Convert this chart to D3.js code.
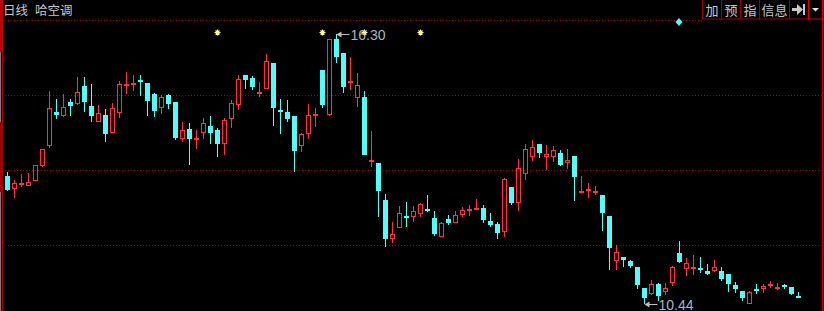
<!DOCTYPE html>
<html><head><meta charset="utf-8">
<script src="https://cdn.jsdelivr.net/npm/d3@7"></script>
<style>html,body{margin:0;padding:0;background:#000;overflow:hidden}svg{display:block}</style>
</head><body>
<svg id="c" width="824" height="311"></svg>
<script>
const title = ["日线", "哈空调"];
const buttons = ["加", "预", "指", "信息"];
const opens = [13.22,12.94,13.05,13.00,13.12,13.44,13.88,14.61,14.53,14.82,14.78,15.17,14.74,14.40,14.54,14.16,14.59,15.19,15.22,15.30,15.24,15.00,14.70,14.98,14.82,14.03,14.24,14.01,14.16,14.30,14.22,13.92,14.46,14.75,15.41,15.35,15.02,15.11,15.67,14.65,14.61,14.52,13.86,14.14,14.53,15.52,14.55,16.19,15.89,15.24,14.92,14.94,13.53,13.50,12.70,11.86,12.08,12.35,12.32,12.40,12.51,12.31,11.90,12.29,12.19,12.38,12.49,12.50,12.53,12.24,12.18,12.00,12.98,12.64,13.27,13.62,13.91,13.64,13.64,13.72,13.51,13.65,12.88,12.91,12.88,12.81,12.35,11.38,11.46,11.37,11.25,10.79,10.66,10.88,10.70,10.90,11.55,11.21,11.21,11.22,11.16,11.16,11.16,11.09,10.86,10.72,10.45,10.77,10.77,10.83,10.79,10.86,10.81,10.62];
const highs = [13.31,13.13,13.26,13.28,13.46,13.81,15.06,14.89,15.00,14.88,15.37,15.37,15.22,14.76,14.67,14.80,15.28,15.48,15.41,15.41,15.24,15.02,14.98,15.00,14.82,14.39,14.37,14.22,14.48,14.52,14.25,14.47,14.86,15.42,15.42,15.38,15.26,15.87,15.67,14.89,14.87,14.52,14.16,14.78,14.69,15.52,16.19,16.30,15.89,15.80,15.45,15.06,14.20,13.50,12.83,12.22,12.57,12.66,12.57,12.63,12.81,12.46,12.22,12.37,12.46,12.55,12.59,12.72,12.59,12.42,12.22,13.18,12.98,13.59,13.91,14.00,13.91,13.89,13.87,13.78,13.81,13.65,13.22,13.07,13.00,12.81,12.35,11.72,11.46,11.39,11.25,10.79,10.96,10.90,10.90,11.27,11.81,11.44,11.51,11.46,11.31,11.40,11.25,11.09,10.92,10.72,10.72,10.88,10.88,10.94,10.90,10.88,10.81,10.70];
const lows = [12.89,12.75,12.99,13.00,13.12,13.42,13.83,14.46,14.49,14.53,14.76,14.61,14.38,14.38,13.96,14.16,14.48,15.00,15.07,14.95,14.52,14.50,14.57,14.67,13.99,13.96,13.46,13.81,14.03,13.92,13.64,13.68,14.27,14.66,15.11,15.09,14.94,15.10,14.30,14.13,14.38,13.31,13.73,14.03,14.28,14.70,14.53,15.68,15.02,15.09,14.72,13.68,13.42,12.33,11.67,11.77,12.08,12.12,12.23,12.33,12.44,11.92,11.90,12.16,12.19,12.33,12.35,12.48,12.20,12.11,11.85,11.90,12.59,12.46,13.14,13.55,13.60,13.35,13.53,13.44,13.37,12.68,12.88,12.74,12.81,12.03,11.18,11.18,11.25,11.22,10.77,10.44,10.64,10.51,10.64,10.83,11.33,11.05,11.07,11.12,11.07,11.14,10.94,10.70,10.68,10.51,10.45,10.66,10.68,10.79,10.75,10.77,10.64,10.57];
const closes = [12.92,13.07,13.06,13.09,13.46,13.80,14.69,14.54,14.72,14.74,15.04,14.82,14.51,14.59,14.14,14.69,15.22,15.22,15.24,15.26,14.85,14.63,14.93,14.78,14.05,14.21,14.02,14.04,14.36,14.15,13.91,14.43,14.80,15.32,15.30,15.15,15.04,15.71,14.70,14.63,14.46,13.77,14.13,14.54,14.56,14.75,16.19,15.81,15.14,15.28,15.19,13.68,13.57,12.90,11.86,11.95,12.41,12.32,12.45,12.61,12.49,11.96,12.20,12.20,12.37,12.47,12.51,12.53,12.26,12.16,11.98,13.15,12.63,13.39,13.81,13.85,13.72,13.70,13.78,13.46,13.57,13.20,12.90,12.94,12.90,12.42,11.66,11.57,11.40,11.27,10.86,10.57,10.88,10.62,10.78,11.25,11.35,11.33,11.25,11.18,11.09,11.25,10.99,10.88,10.77,10.57,10.70,10.75,10.83,10.88,10.81,10.81,10.66,10.60];
const starIdx = [30, 45, 51, 59];
const diamondIdx = [96];

const RED = "#FF3434", CYAN = "#54FCFC", GRID = "#A80000";
const svg = d3.select("#c");
const n = opens.length;
const data = d3.range(n).map(i => ({i, o: opens[i], h: highs[i], l: lows[i], c: closes[i]}));

const x = d3.scaleBand().domain(d3.range(n)).range([4, 4 + 7 * n]);
const cx = i => x(i) + x.bandwidth() / 2;
const y = d3.scaleLinear().domain([10.44, 16.30]).range([304, 34]);

// borders
svg.append("rect").attr("x", 0).attr("y", 0).attr("width", 824).attr("height", 311).attr("fill", "#000");
svg.append("line").attr("x1", 0.5).attr("x2", 0.5).attr("y1", 0).attr("y2", 311).attr("stroke", "#808080");
svg.append("line").attr("x1", 2.5).attr("x2", 2.5).attr("y1", 0).attr("y2", 311).attr("stroke", "#C00000");
svg.append("rect").attr("x", 0).attr("y", 0).attr("width", 3).attr("height", 52).attr("fill", "#C00000");
svg.append("rect").attr("x", 0).attr("y", 122).attr("width", 3).attr("height", 70).attr("fill", "#A00000");
svg.append("line").attr("x1", 822.5).attr("x2", 822.5).attr("y1", 0).attr("y2", 311).attr("stroke", "#C00000");

// grid (4 equal bands of the price pane)
const gridYs = d3.range(4).map(k => 20 + 75 * k);
svg.selectAll("line.grid").data(gridYs).join("line").attr("class", "grid")
  .attr("x1", 5).attr("x2", (d, k) => k === 0 ? 702 : 822)
  .attr("y1", d => d + 0.5).attr("y2", d => d + 0.5)
  .attr("stroke", GRID).attr("stroke-dasharray", "1,2");

// title
svg.append("text").attr("x", 3).attr("y", 15).attr("fill", "#C8C8C8")
  .attr("font-family", "'Noto Sans CJK SC'").attr("font-size", 12.5)
  .text(title[0]);
svg.append("text").attr("x", 35).attr("y", 15).attr("fill", "#C8C8C8")
  .attr("font-family", "'Noto Sans CJK SC'").attr("font-size", 12.5)
  .text(title[1]);

// buttons
const bx = [702, 721, 740, 759, 789, 808, 822];
for (let k = 0; k < 6; k++) {
  svg.append("rect").attr("x", bx[k] + 0.5).attr("y", -0.5).attr("width", bx[k + 1] - bx[k]).attr("height", 19.5)
    .attr("fill", "none").attr("stroke", k === 5 ? "#E00000" : "#A00000");
}
buttons.forEach((t, k) => {
  svg.append("text").attr("x", (bx[k] + bx[k + 1]) / 2 + 0.5).attr("y", 14.5).attr("text-anchor", "middle")
    .attr("fill", "#C8C8C8").attr("font-family", "'Noto Sans CJK SC'").attr("font-size", 13).text(t);
});
svg.append("path").attr("d", "M792,8H797V4L803,9.5L797,15V11H792Z").attr("fill", "#C8C8C8");
svg.append("rect").attr("x", 803).attr("y", 4).attr("width", 2).attr("height", 11).attr("fill", "#C8C8C8");
svg.append("path").attr("d", "M812,8H819L815.5,11.5Z").attr("fill", "#E0E0E0");

// candles
const g = svg.append("g");
data.forEach(d => {
  const up = d.c >= d.o;
  const c = cx(d.i);
  const yT = Math.round(y(Math.max(d.o, d.c))), yB = Math.round(y(Math.min(d.o, d.c)));
  const yH = Math.round(y(d.h)), yL = Math.round(y(d.l));
  const col = up ? RED : CYAN;
  if (up) {
    if (yB - yT >= 3) {
      if (yT > yH) g.append("line").attr("x1", c).attr("x2", c).attr("y1", yH).attr("y2", yT).attr("stroke", col);
      if (yL > yB) g.append("line").attr("x1", c).attr("x2", c).attr("y1", yB).attr("y2", yL).attr("stroke", col);
      g.append("rect").attr("x", c - 2).attr("y", yT + 0.5).attr("width", 4).attr("height", yB - yT - 1)
        .attr("fill", "none").attr("stroke", col);
    } else {
      g.append("line").attr("x1", c).attr("x2", c).attr("y1", yH).attr("y2", yL).attr("stroke", col);
      g.append("rect").attr("x", c - 2.5).attr("y", yT).attr("width", 5).attr("height", Math.max(2, yB - yT)).attr("fill", col);
    }
  } else {
    g.append("line").attr("x1", c).attr("x2", c).attr("y1", yH).attr("y2", yL).attr("stroke", col);
    g.append("rect").attr("x", c - 2.5).attr("y", yT).attr("width", 5).attr("height", Math.max(2, yB - yT)).attr("fill", col);
  }
});

// stars
starIdx.forEach(i => {
  const c = Math.floor(cx(i)), s = 32.5;
  svg.append("path")
    .attr("d", `M${c - 2.5},${s}H${c + 3.5}M${c + 0.5},${s - 3}V${s + 3}M${c - 1.5},${s - 2}L${c + 2.5},${s + 2}M${c - 1.5},${s + 2}L${c + 2.5},${s - 2}`)
    .attr("stroke", "#FFFF90").attr("stroke-width", 1.2);
});
// diamond
diamondIdx.forEach(i => {
  const c = cx(i) - 0.5;
  svg.append("path").attr("d", `M${c},18L${c + 3.5},22L${c},26L${c - 3.5},22Z`).attr("fill", CYAN);
});

// max / min labels
const iMax = d3.maxIndex(highs), iMin = d3.minIndex(lows);
function label(i, v) {
  const c = cx(i), yy = Math.round(y(v)) + 0.5;
  svg.append("line").attr("x1", c + 1).attr("x2", c + 13).attr("y1", yy).attr("y2", yy).attr("stroke", "#C0C0C0");
  svg.append("path").attr("d", `M${c},${yy}L${c + 5},${yy - 3}L${c + 5},${yy + 3}Z`).attr("fill", "#C0C0C0");
  svg.append("text").attr("x", c + 14).attr("y", yy + 5).attr("fill", "#A8B4C8")
    .attr("font-family", "'Liberation Sans', Arial, sans-serif").attr("font-size", 14)
    .text(v.toFixed(2));
}
label(iMax, highs[iMax]);
label(iMin, lows[iMin]);
</script>
</body></html>
